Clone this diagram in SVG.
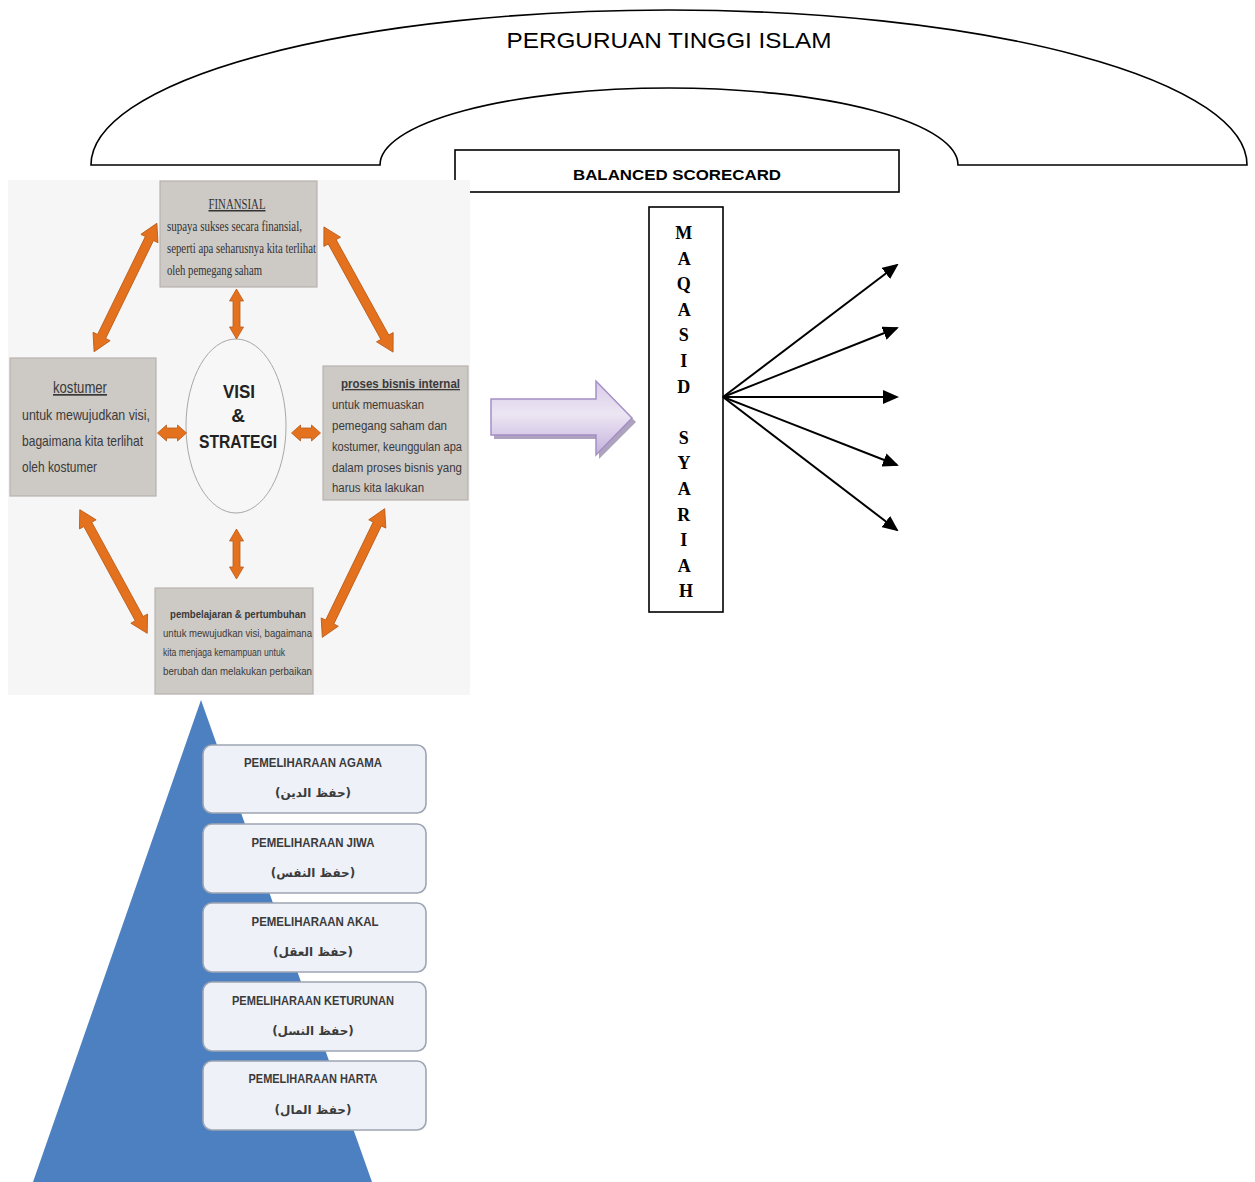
<svg xmlns="http://www.w3.org/2000/svg" width="1255" height="1182" viewBox="0 0 1255 1182">
<style>
.ln{fill:none;stroke:#000;stroke-width:1.6}
.box{fill:#fff;stroke:#000;stroke-width:1.6}
.bscbox{fill:#cdc9c5;stroke:#b8b3af;stroke-width:1.2}
.orange{fill:#e4711e;stroke:#b95b18;stroke-width:0.8}
.sans{font-family:"Liberation Sans","DejaVu Sans",sans-serif}
.serif{font-family:"Liberation Serif","DejaVu Serif",serif}
.bt{fill:#3a3a3a;font-family:"Liberation Sans",sans-serif}
.pbox{fill:#eef1f8;stroke:#9da5b3;stroke-width:1.6}
.pt{fill:#3b3b3b;font-family:"Liberation Sans",sans-serif;font-weight:bold;font-size:12px;text-anchor:middle}
.ar{fill:#3b3b3b;font-family:"DejaVu Sans",sans-serif;font-weight:bold;font-size:12px;text-anchor:middle}
.arrow{stroke:#000;stroke-width:2;fill:none;marker-end:url(#head)}
</style>
<defs>
<marker id="head" markerUnits="userSpaceOnUse" markerWidth="16" markerHeight="14" viewBox="0 0 16 14" refX="14" refY="7" orient="auto">
<path d="M0,0 L16,7 L0,14 z" fill="#000"/>
</marker>
<polygon id="dblLong" points="-71.5,0 -54.5,-9.5 -54.5,-4.5 54.5,-4.5 54.5,-9.5 71.5,0 54.5,9.5 54.5,4.5 -54.5,4.5 -54.5,9.5"/>
<polygon id="dblV" points="-25,0 -13,-7 -13,-3.5 13,-3.5 13,-7 25,0 13,7 13,3.5 -13,3.5 -13,7"/>
<polygon id="dblH" points="-14.5,0 -5.5,-8 -5.5,-5 5.5,-5 5.5,-8 14.5,0 5.5,8 5.5,5 -5.5,5 -5.5,8"/>
<linearGradient id="purple" x1="0" y1="0" x2="0" y2="1">
<stop offset="0" stop-color="#d8cbe8"/>
<stop offset="0.45" stop-color="#ece6f3"/>
<stop offset="1" stop-color="#c4b1dc"/>
</linearGradient>
</defs>

<!-- Arch: Perguruan Tinggi Islam -->
<g id="perguruan-tinggi-islam">
<path class="ln" fill="#fff" d="M91,165 A578,155 0 0 1 1247,165 L958,165 A289,77 0 0 0 380,165 Z" style="fill:#fff"/>
<text class="sans" x="669" y="48" font-size="22" text-anchor="middle" textLength="325" lengthAdjust="spacingAndGlyphs" fill="#000">PERGURUAN TINGGI ISLAM</text>
</g>

<!-- Balanced scorecard header -->
<g id="balanced-scorecard">
<rect class="box" x="455" y="150" width="444" height="42"/>
<text class="sans" x="677" y="180" font-size="15" font-weight="bold" text-anchor="middle" textLength="208" lengthAdjust="spacingAndGlyphs">BALANCED SCORECARD</text>
</g>

<!-- BSC picture -->
<g id="bsc-diagram">
<rect x="8" y="180" width="462" height="515" fill="#f6f6f6"/>
<g id="bsc-finansial">
<rect class="bscbox" x="160" y="181" width="157" height="106"/>
<text class="serif" x="237" y="209" font-size="15" fill="#333" text-anchor="middle" textLength="57" lengthAdjust="spacingAndGlyphs" text-decoration="underline">FINANSIAL</text>
<text class="serif" x="167" y="231" font-size="14" fill="#333" textLength="135" lengthAdjust="spacingAndGlyphs">supaya sukses secara finansial,</text>
<text class="serif" x="167" y="253" font-size="14" fill="#333" textLength="149" lengthAdjust="spacingAndGlyphs">seperti apa seharusnya kita terlihat</text>
<text class="serif" x="167" y="275" font-size="14" fill="#333" textLength="95" lengthAdjust="spacingAndGlyphs">oleh pemegang saham</text>
</g>
<g id="bsc-kostumer">
<rect class="bscbox" x="10" y="358" width="146" height="138"/>
<text class="bt" x="80" y="393" font-size="17" text-anchor="middle" textLength="54" lengthAdjust="spacingAndGlyphs" text-decoration="underline">kostumer</text>
<text class="bt" x="22" y="420" font-size="15" textLength="128" lengthAdjust="spacingAndGlyphs">untuk mewujudkan visi,</text>
<text class="bt" x="22" y="446" font-size="15" textLength="121" lengthAdjust="spacingAndGlyphs">bagaimana kita terlihat</text>
<text class="bt" x="22" y="472" font-size="15" textLength="75" lengthAdjust="spacingAndGlyphs">oleh kostumer</text>
</g>
<g id="bsc-proses">
<rect class="bscbox" x="323" y="366" width="145" height="134"/>
<text class="bt" x="341" y="388" font-size="13" font-weight="bold" textLength="119" lengthAdjust="spacingAndGlyphs" text-decoration="underline">proses bisnis internal</text>
<text class="bt" x="332" y="409" font-size="12.5" textLength="92" lengthAdjust="spacingAndGlyphs">untuk memuaskan</text>
<text class="bt" x="332" y="430" font-size="12.5" textLength="115" lengthAdjust="spacingAndGlyphs">pemegang saham dan</text>
<text class="bt" x="332" y="451" font-size="12.5" textLength="130" lengthAdjust="spacingAndGlyphs">kostumer, keunggulan apa</text>
<text class="bt" x="332" y="472" font-size="12.5" textLength="130" lengthAdjust="spacingAndGlyphs">dalam proses bisnis yang</text>
<text class="bt" x="332" y="492" font-size="12.5" textLength="92" lengthAdjust="spacingAndGlyphs">harus kita lakukan</text>
</g>
<g id="bsc-pembelajaran">
<rect class="bscbox" x="155" y="588" width="158" height="106"/>
<text class="bt" x="170" y="618" font-size="11" font-weight="bold" textLength="136" lengthAdjust="spacingAndGlyphs">pembelajaran &amp; pertumbuhan</text>
<text class="bt" x="163" y="637" font-size="10.5" textLength="149" lengthAdjust="spacingAndGlyphs">untuk mewujudkan visi, bagaimana</text>
<text class="bt" x="163" y="656" font-size="10.5" textLength="122" lengthAdjust="spacingAndGlyphs">kita menjaga kemampuan untuk</text>
<text class="bt" x="163" y="675" font-size="10.5" textLength="149" lengthAdjust="spacingAndGlyphs">berubah dan melakukan perbaikan</text>
</g>
<g id="bsc-visi">
<ellipse cx="236" cy="426" rx="50" ry="87" fill="#f7f7f7" stroke="#a8a8a8" stroke-width="1"/>
<text class="sans" x="239" y="398" font-size="19" font-weight="bold" fill="#222" text-anchor="middle" textLength="32" lengthAdjust="spacingAndGlyphs">VISI</text>
<text class="sans" x="238" y="422" font-size="19" font-weight="bold" fill="#222" text-anchor="middle">&amp;</text>
<text class="sans" x="238" y="448" font-size="19" font-weight="bold" fill="#222" text-anchor="middle" textLength="78" lengthAdjust="spacingAndGlyphs">STRATEGI</text>
</g>
<g id="bsc-arrows" class="orange">
<use href="#dblLong" transform="translate(125.5,287.5) rotate(116.03)"/>
<use href="#dblLong" transform="translate(358.5,289.5) rotate(61.1)"/>
<use href="#dblLong" transform="translate(113.5,571.5) rotate(61.4) scale(0.985,1)"/>
<use href="#dblLong" transform="translate(353.5,573) rotate(115.86)"/>
<use href="#dblV" transform="translate(236.5,314) rotate(90)"/>
<use href="#dblV" transform="translate(236.5,554) rotate(90)"/>
<use href="#dblH" transform="translate(172,433)"/>
<use href="#dblH" transform="translate(306,433)"/>
</g>
</g>

<!-- Purple block arrow -->
<g id="purple-arrow">
<polygon points="494,403 599,403 599,385 636,422 599,459 599,439 494,439" fill="#9a8cae" opacity="0.8"/>
<polygon points="491,399 596,399 596,381 632,418 596,455 596,435 491,435" fill="url(#purple)" stroke="#a48fc6" stroke-width="1.5"/>
</g>

<!-- Maqasid Syariah -->
<g id="maqasid-syariah">
<rect class="box" x="649" y="207" width="74" height="405"/>
<text class="serif" font-size="18" font-weight="bold" text-anchor="middle" fill="#000">
<tspan x="686" y="239">M</tspan>
<tspan x="686" y="264.6">A</tspan>
<tspan x="686" y="290.2">Q</tspan>
<tspan x="686" y="315.8">A</tspan>
<tspan x="686" y="341.4">S</tspan>
<tspan x="686" y="367">I</tspan>
<tspan x="686" y="392.6">D</tspan>
<tspan x="686" y="443.8">S</tspan>
<tspan x="686" y="469.4">Y</tspan>
<tspan x="686" y="495">A</tspan>
<tspan x="686" y="520.6">R</tspan>
<tspan x="686" y="546.2">I</tspan>
<tspan x="686" y="571.8">A</tspan>
<tspan x="686" y="597.4">H</tspan>
</text>
</g>

<g id="connectors">
<line class="arrow" x1="723" y1="397" x2="897" y2="265"/>
<line class="arrow" x1="723" y1="397" x2="897" y2="328"/>
<line class="arrow" x1="723" y1="397" x2="897" y2="397"/>
<line class="arrow" x1="723" y1="397" x2="897" y2="465"/>
<line class="arrow" x1="723" y1="397" x2="897" y2="530"/>
</g>

<!-- Maqasid pyramid -->
<g id="maqasid-pyramid">
<polygon points="201,700 33,1182 372,1182" fill="#4d80c0"/>
<g id="p-agama">
<rect class="pbox" x="203" y="745" width="223" height="68" rx="9"/>
<text class="pt" x="313" y="767" textLength="138" lengthAdjust="spacingAndGlyphs">PEMELIHARAAN AGAMA</text>
<text class="ar" x="313" y="797" direction="rtl">(حفظ الدين)</text>
</g>
<g id="p-jiwa">
<rect class="pbox" x="203" y="824" width="223" height="69" rx="9"/>
<text class="pt" x="313" y="847" textLength="123" lengthAdjust="spacingAndGlyphs">PEMELIHARAAN JIWA</text>
<text class="ar" x="313" y="877" direction="rtl">(حفظ النفس)</text>
</g>
<g id="p-akal">
<rect class="pbox" x="203" y="903" width="223" height="69" rx="9"/>
<text class="pt" x="315" y="926" textLength="127" lengthAdjust="spacingAndGlyphs">PEMELIHARAAN AKAL</text>
<text class="ar" x="313" y="956" direction="rtl">(حفظ العقل)</text>
</g>
<g id="p-keturunan">
<rect class="pbox" x="203" y="982" width="223" height="69" rx="9"/>
<text class="pt" x="313" y="1005" textLength="162" lengthAdjust="spacingAndGlyphs">PEMELIHARAAN KETURUNAN</text>
<text class="ar" x="313" y="1035" direction="rtl">(حفظ النسل)</text>
</g>
<g id="p-harta">
<rect class="pbox" x="203" y="1061" width="223" height="69" rx="9"/>
<text class="pt" x="313" y="1083" textLength="129" lengthAdjust="spacingAndGlyphs">PEMELIHARAAN HARTA</text>
<text class="ar" x="313" y="1114" direction="rtl">(حفظ المال)</text>
</g>
</g>
</svg>
